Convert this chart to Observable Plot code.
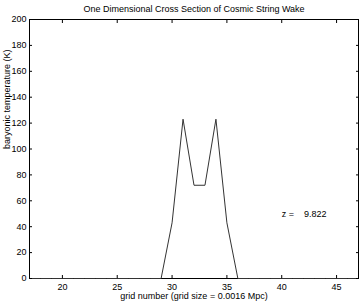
<!DOCTYPE html>
<html><head><meta charset="utf-8">
<script src="https://cdn.jsdelivr.net/npm/d3@7"></script>
<script src="https://cdn.jsdelivr.net/npm/@observablehq/plot@0.6"></script>
<style>body{margin:0;background:#fff}</style>
</head><body><div id="chart"></div>
<script>
const gridNumber = [17,18,19,20,21,22,23,24,25,26,27,28,29,30,31,32,33,34,35,36,37,38,39,40,41,42,43,44,45,46,47];
const temperature = [0,0,0,0,0,0,0,0,0,0,0,0,0,43,123,72,72,123,43,0,0,0,0,0,0,0,0,0,0,0,0];
const xTicks = [20,25,30,35,40,45];
const yTicks = [0,20,40,60,80,100,120,140,160,180,200];
const title = "One Dimensional Cross Section of Cosmic String Wake";
const xLabel = "grid number (grid size = 0.0016 Mpc)";
const yLabel = "baryonic temperature (K)";
const annotation = [{x: 40, y: 50, label: "z =    9.822"}];

const data = gridNumber.map((g, i) => ({g, t: temperature[i]}));

const chart = Plot.plot({
  width: 362, height: 301,
  marginLeft: 29, marginRight: 4, marginTop: 19, marginBottom: 23,
  style: {fontFamily: "'Liberation Sans', Arial, sans-serif", fontSize: "9px", color: "#000", background: "#fff"},
  x: {domain: [17, 47]},
  y: {domain: [0, 200]},
  marks: [
    Plot.frame({stroke: "#000"}),
    Plot.line(data, {x: "g", y: "t", stroke: "#333", strokeWidth: 1}),
    Plot.axisX(xTicks, {anchor: "bottom", tickSize: -3, tickPadding: 8, label: null, fontSize: 9}),
    Plot.axisX(xTicks, {anchor: "top", tickSize: -3, tickFormat: () => "", label: null}),
    Plot.axisY(yTicks, {anchor: "left", tickSize: -3, tickPadding: 6, label: null, fontSize: 9}),
    Plot.axisY(yTicks, {anchor: "right", tickSize: -3, tickFormat: () => "", label: null}),
    Plot.text([xLabel], {frameAnchor: "bottom", lineAnchor: "middle", dy: 18, text: d => d, fontSize: 9}),
    Plot.text([yLabel], {frameAnchor: "left", dx: -22, rotate: -90, text: d => d, fontSize: 9}),
    Plot.text([title], {frameAnchor: "top", lineAnchor: "middle", dy: -10, text: d => d, fontSize: 9}),
    Plot.text(annotation, {x: "x", y: "y", text: "label", textAnchor: "start", fontSize: 9, style: "white-space:pre"})
  ]
});
document.getElementById("chart").append(chart);
</script></body></html>
